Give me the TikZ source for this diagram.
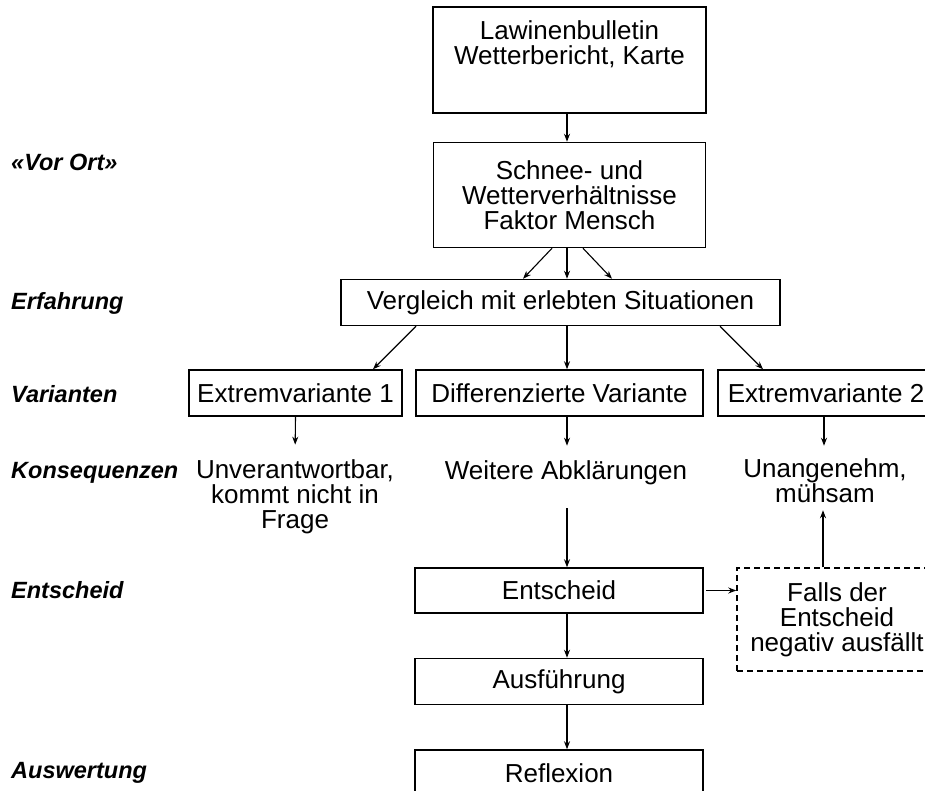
\documentclass[tikz,border=0pt]{standalone}
\usepackage{fontspec}
\setmainfont{Liberation Sans}
\usetikzlibrary{arrows.meta}

\begin{document}
\begin{tikzpicture}[x=1pt,y=-1pt,
    box/.style={draw,line width=1.5pt,minimum height=46pt,inner sep=0pt,
      font=\fontsize{26}{25}\selectfont},
    txt/.style={align=center,inner sep=0pt,font=\fontsize{26}{25}\selectfont},
    lab/.style={anchor=west,inner sep=0pt,
      font=\fontsize{23.5}{23}\selectfont\bfseries\itshape},
    arr/.style={-{Stealth[length=8pt,width=6pt]},line width=1.1pt}]

      \clip (0,0) rectangle (925,791);
      \coordinate (achse) at (567,0);

      % Vorbereitung
      \node[box,minimum width=273pt,minimum height=106pt] (lawine) at (569.5,60) {};
      \node[txt,anchor=north] (lawinetxt) at (569.5,20) {Lawinenbulletin\\Wetterbericht, Karte};
      \node[box,txt,draw,minimum width=272pt,minimum height=105pt] (schnee) at (569.5,195)
        {Schnee- und\\Wetterverhältnisse\\Faktor Mensch};
      \node[box,minimum width=439pt,minimum height=46pt] (vergleich) at (560.5,302.5)
        {Vergleich mit erlebten Situationen};
      \draw[arr] (lawine.south -| achse) -- (schnee.north -| achse);
      \foreach \s/\t in {-15/-44,0/0,16/45}
      { \draw[arr] ([xshift=\s pt]schnee.south -| achse) -- ([xshift=\t pt]vergleich.north -| achse); }

      % Varianten
      \node[box,minimum width=213pt] (ext1) at (295.5,393) {Extremvariante 1};
      \node[box,minimum width=287pt] (diff) at (559.5,393) {Differenzierte Variante};
      \node[box,minimum width=216pt] (ext2) at (826,393) {Extremvariante 2};
      \draw[arr] ([xshift=-144.5pt]vergleich.south) -- ([xshift=77.5pt]ext1.north);
      \draw[arr] (vergleich.south -| achse) -- (diff.north -| achse);
      \draw[arr] ([xshift=159.5pt]vergleich.south) -- ([xshift=-63pt]ext2.north);

      % Konsequenzen
      \node[txt] (unv) at (295,497) {Unverantwortbar,\\kommt nicht in\\Frage};
      \node[txt] (weitere) at (566,473) {Weitere Abklärungen};
      \node[txt] (unang) at (825,481) {Unangenehm,\\mühsam};
      \draw[arr,shorten >=15pt] (ext1.south) -- (unv.north);
      \draw[arr,shorten >=15pt] (diff.south -| achse) -- (weitere.north -| achse);
      \draw[arr,shorten >=13pt] ([xshift=-2pt]ext2.south) -- ([xshift=-2pt]ext2.south |- unang.north);

      % Entscheid
      \node[box,minimum width=288pt,minimum height=45pt] (entscheid) at (559,590.5) {Entscheid};
      \node[box,txt,draw,dashed,dash pattern=on 6pt off 4pt,minimum width=200pt,
        minimum height=103pt] (falls) at (837,619.5) {Falls der\\Entscheid\\negativ ausfällt};
      \node[box,minimum width=288pt] (ausf) at (559,681.5) {Ausführung};
      \node[box,minimum width=288pt] (reflex) at (559,773) {Reflexion};
      \draw[arr,shorten <=23pt] (weitere.south -| achse) -- (entscheid.north -| achse);
      \draw[arr,shorten <=2pt] (entscheid.east) -- (entscheid.east -| falls.west);
      \draw[arr,shorten >=7pt] ([xshift=-14pt]falls.north) -- ([xshift=-14pt]falls.north |- unang.south);
      \draw[arr] (entscheid.south -| achse) -- (ausf.north -| achse);
      \draw[arr] (ausf.south -| achse) -- (reflex.north -| achse);

      % Stufen links
      \node[lab] (vorort) at (11,162) {«Vor Ort»};
      \node[lab] (erfahrung) at (11,303) {Erfahrung};
      \node[lab] (varianten) at (11,394) {Varianten};
      \node[lab] (konseq) at (11,473) {Konsequenzen};
      \node[lab] (entsch) at (11,590) {Entscheid};
      \node[lab] (ausw) at (11,773) {Auswertung};

\end{tikzpicture}
\end{document}
